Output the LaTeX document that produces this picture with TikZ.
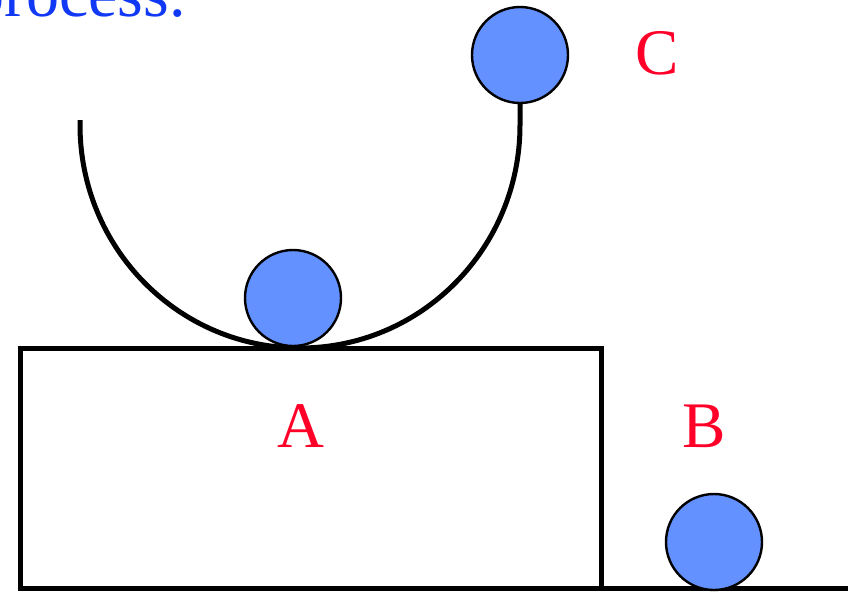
\documentclass[tikz,border=0pt]{standalone}
\usepackage{fontspec}
\setmainfont{Liberation Serif}
\usepackage{xcolor}
\definecolor{ballblue}{RGB}{99,145,255}
\definecolor{textblue}{RGB}{16,56,245}
\definecolor{labred}{RGB}{255,0,40}

\begin{document}
\begin{tikzpicture}[x=1pt,y=-1pt,line cap=round,
  ball/.style={circle,draw=black,line width=2.4pt,fill=ballblue,minimum size=96pt,inner sep=0pt},
  lab/.style={text=labred,font=\fontsize{65}{70}\selectfont,inner sep=0pt},
  track/.style={line width=5pt}]
\useasboundingbox (0,0) rectangle (853,592);
\begin{scope}
\clip (0,0) rectangle (853,592);
\node[anchor=base west,text=textblue,font=\fontsize{66}{70}\selectfont,inner sep=0pt] (caption) at (-29,16) {process.};
\end{scope}
% block and floor
\draw[track,line cap=butt] (20,348) rectangle (601,588);
\draw[track,line cap=butt] (601,588) -- (848,588);
% balls
\node[ball] (ballC) at (520,55) {};
\draw[track,line cap=butt] (80,120) -- (80,125) arc[start angle=180,end angle=0,x radius=220,y radius=223] -- (ballC.south);
\node[ball] (ballA) at (293,298) {};
\node[ball] (ballB) at (714,542) {};
% labels
\node[lab] (labA) at (301,426) {A};
\node[lab] (labB) at (704,426) {B};
\node[lab] (labC) at (657,53) {C};
\end{tikzpicture}
\end{document}
